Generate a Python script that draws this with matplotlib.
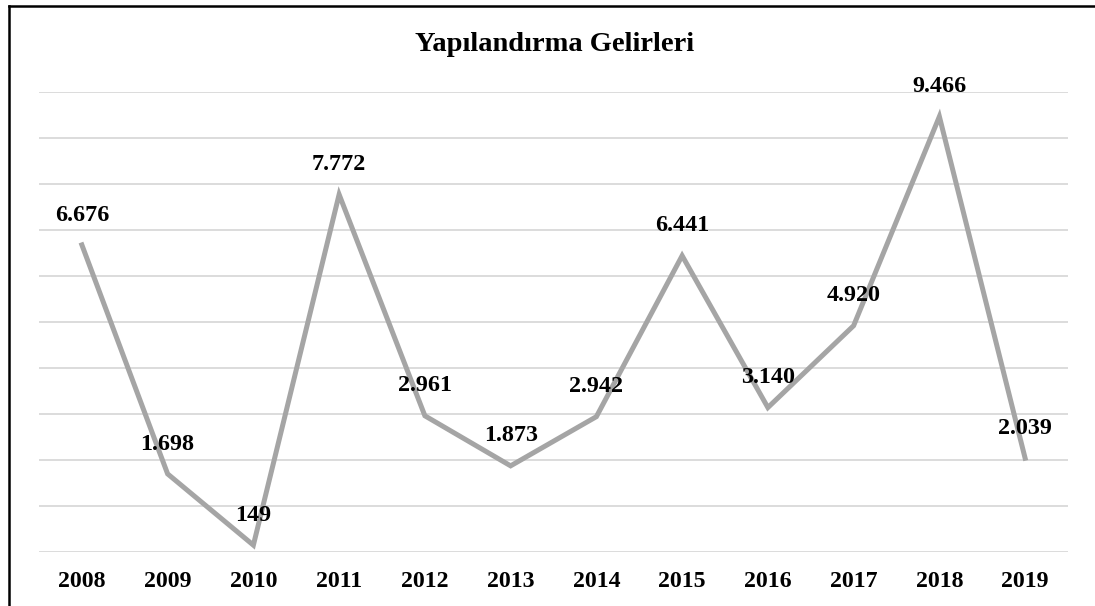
import numpy as np
import matplotlib.pyplot as plt
from matplotlib.lines import Line2D

"""
DATA
"""
years = ['2008', '2009', '2010', '2011', '2012', '2013',
         '2014', '2015', '2016', '2017', '2018', '2019']
gelir = [6676, 1698, 149, 7772, 2961, 1873, 2942, 6441, 3140, 4920, 9466, 2039]
etiket = ['6.676', '1.698', '149', '7.772', '2.961', '1.873',
          '2.942', '6.441', '3.140', '4.920', '9.466', '2.039']

plt.rcParams['font.family'] = ['Liberation Serif', 'DejaVu Serif']

fig = plt.figure(figsize=(10.95, 6.06), dpi=100)
ax = fig.add_axes([39/1095, 1 - 552/606, (1068 - 39)/1095, (552 - 92)/606])

x = np.arange(len(years))
ax.plot(x, gelir, color='#A5A5A5', lw=3.6, solid_joinstyle='miter', zorder=3)

for xi, yi, t in zip(x, gelir, etiket):
    ax.annotate(t, (xi, yi), xytext=(0, 21.5), textcoords='offset points',
                ha='center', va='center', fontsize=17.4, fontweight='bold',
                color='black', zorder=4)

ax.set_xlim(-0.5, len(years) - 0.5)
ax.set_ylim(0, 10000)
ax.set_yticks(np.arange(0, 10001, 1000))
ax.yaxis.grid(True, color='#D9D9D9', lw=1.3)
ax.set_axisbelow(True)
ax.tick_params(axis='y', left=False, labelleft=False)
ax.tick_params(axis='x', bottom=False, pad=10)
ax.set_xticks(x)
ax.set_xticklabels(years, fontsize=17.2, fontweight='bold')
for s in ax.spines.values():
    s.set_visible(False)

fig.text(555/1095, 1 - 51/606, 'Yapılandırma Gelirleri', ha='center', va='baseline',
         fontsize=20.5, fontweight='bold')

# outer frame (only top and left visible)
fig.add_artist(Line2D([9/1095, 1], [1 - 6/606, 1 - 6/606], color='black', lw=1.8,
                      transform=fig.transFigure))
fig.add_artist(Line2D([9/1095, 9/1095], [0, 1 - 6/606], color='black', lw=1.8,
                      transform=fig.transFigure))

fig.savefig('out.png', dpi=100)
